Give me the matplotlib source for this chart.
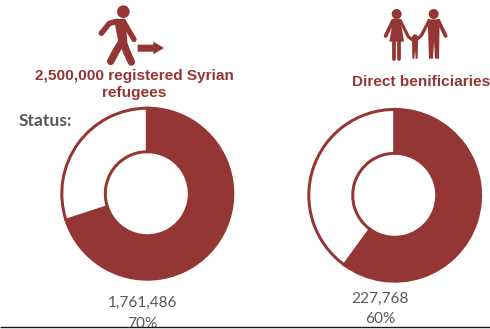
import matplotlib
matplotlib.use("Agg")
import matplotlib.pyplot as plt
from matplotlib.patches import Circle, Polygon, Rectangle

W, H = 490, 329
MAROON = "#943634"
GREY = "#595959"

# Share of each group, in percent
refugee_shares = [70, 30]
beneficiary_shares = [60, 40]
refugee_count = "1,761,486"
beneficiary_count = "227,768"
refugee_title = "2,500,000 registered Syrian\nrefugees"
beneficiary_title = "Direct benificiaries"
status_label = "Status:"

fig = plt.figure(figsize=(W / 100, H / 100), dpi=100, facecolor="white")


def donut(shares, cx, cy, radius):
    """Draw a ring whose first share is solid and whose remainder is outlined."""
    size = radius * 2
    ax = fig.add_axes([(cx - radius) / W, 1 - (cy + radius) / H, size / W, size / H])
    stroke = 3.0
    outer = radius - stroke / 2
    inner = 42.0
    ax.pie(
        shares,
        startangle=90,
        counterclock=False,
        colors=[MAROON, "white"],
        radius=outer / radius,
        wedgeprops=dict(width=(outer - inner) / radius, edgecolor=MAROON,
                        linewidth=stroke * 0.72),
    )
    ax.set_xlim(-1, 1)
    ax.set_ylim(-1, 1)
    ax.set_aspect("equal")


donut(refugee_shares, 147.3, 193.7, 87)
donut(beneficiary_shares, 394.7, 195.3, 87.4)

# Overlay in pixel units for the captions, icons and the rule along the bottom
ov = fig.add_axes([0, 0, 1, 1], facecolor="none")
ov.set_xlim(0, W)
ov.set_ylim(H, 0)
ov.axis("off")


def limb(points, width, origin):
    xs = [origin[0] + p[0] / 3 for p in points]
    ys = [origin[1] + p[1] / 3 for p in points]
    ov.plot(xs, ys, color=MAROON, lw=width * 0.72, solid_capstyle="round",
            solid_joinstyle="round")


def head(point, r, origin):
    ov.add_patch(Circle((origin[0] + point[0] / 3, origin[1] + point[1] / 3), r,
                        color=MAROON, lw=0))


def shape(points, origin):
    ov.add_patch(Polygon([(origin[0] + p[0] / 3, origin[1] + p[1] / 3) for p in points],
                         closed=True, color=MAROON, lw=0))


# Walking figure with its arrow
walker = (90, 0)
head((100, 35), 6.3, walker)
shape([(72, 58), (106, 56), (112, 125), (86, 132)], walker)
limb([(82, 64), (58, 70), (34, 100)], 5.5, walker)
limb([(100, 64), (115, 90), (132, 118)], 5.5, walker)
limb([(98, 122), (80, 150), (62, 184)], 7.5, walker)
limb([(98, 122), (110, 155), (124, 186)], 7.5, walker)
shape([(143, 134), (190, 134), (190, 125), (222, 144), (190, 163), (190, 155), (143, 155)], walker)

# Family holding hands
family = (375, 0)
head((65, 42), 5.0, family)
shape([(55, 56), (76, 56), (87, 125), (43, 125)], family)
limb([(54, 62), (32, 108)], 3.8, family)
limb([(76, 62), (100, 110), (118, 124)], 3.2, family)
limb([(57, 125), (57, 176)], 3.8, family)
limb([(72, 125), (72, 176)], 3.8, family)

head((176, 42), 5.0, family)
shape([(158, 58), (194, 58), (192, 176), (180, 176), (177, 125), (174, 176), (162, 176)], family)
limb([(162, 62), (140, 105), (120, 124)], 3.2, family)
limb([(190, 62), (212, 108)], 3.8, family)

head((120, 112), 3.0, family)
shape([(111, 122), (129, 122), (128, 176), (122, 176), (120, 150), (118, 176), (112, 176)], family)

# Captions
ov.text(134, 84.5, refugee_title, ha="center", va="center", color=MAROON,
        family="Liberation Sans", fontweight="bold", fontsize=11.05, linespacing=1.2)
ov.text(421, 82, beneficiary_title, ha="center", va="center", color=MAROON,
        family="Liberation Sans", fontweight="bold", fontsize=11.05)
ov.text(19, 120.5, status_label, ha="left", va="center", color=GREY,
        family="Lato", fontweight="bold", fontsize=12.6)

ov.text(142.5, 303, refugee_count, ha="center", va="center", color=GREY,
        family="Lato", fontsize=11.1)
ov.text(142, 324, f"{refugee_shares[0]}%", ha="center", va="center", color=GREY,
        family="Lato", fontsize=11.1)
ov.text(380, 299, beneficiary_count, ha="center", va="center", color=GREY,
        family="Lato", fontsize=11.1)
ov.text(380, 319, f"{beneficiary_shares[0]}%", ha="center", va="center", color=GREY,
        family="Lato", fontsize=11.1)

# The rule closes the panel; anything running past it is hidden
ov.add_patch(Rectangle((0, 327.5), W, 2, color="white", lw=0, zorder=5))
ov.plot([0, W], [327.3, 327.3], color="#1a1a1a", lw=1.0, zorder=6, solid_capstyle="butt")

fig.savefig("out.png", dpi=100)
